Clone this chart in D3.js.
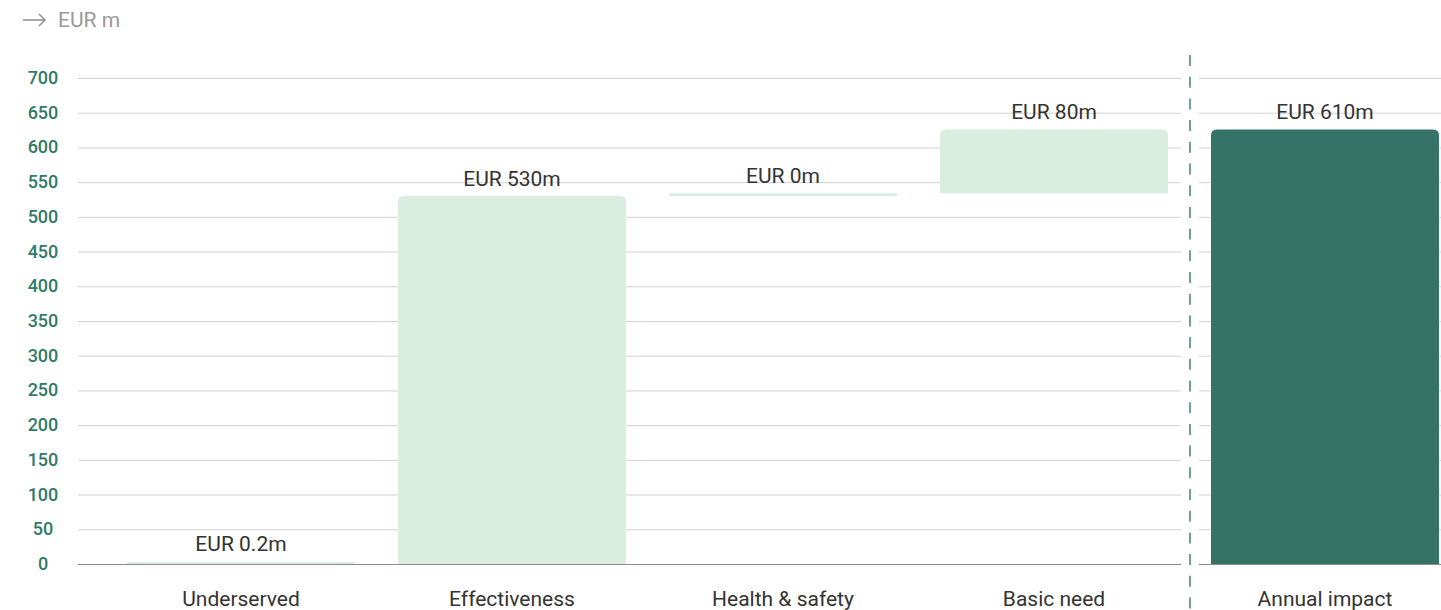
<!DOCTYPE html>
<html>
<head>
<meta charset="utf-8">
<script src="https://cdn.jsdelivr.net/npm/d3@7"></script>
<style>
  body { margin: 0; background: #fff; font-family: Roboto, "Noto Sans", sans-serif; }
  svg { display: block; }
</style>
</head>
<body>
<div id="chart"></div>
<script>
// categories and values (bar start / end, labels as printed)
var categories = ["Underserved", "Effectiveness", "Health & safety", "Basic need", "Annual impact"];
var barStart = [0, 0, 530, 534, 0];
var barEnd = [3, 530, 534, 626, 626];
var valueLabels = ["EUR 0.2m", "EUR 530m", "EUR 0m", "EUR 80m", "EUR 610m"];
var isTotal = [false, false, false, false, true];
var yTicks = [0, 50, 100, 150, 200, 250, 300, 350, 400, 450, 500, 550, 600, 650, 700];

var width = 1441, height = 610;
var divX = 1190;

var svg = d3.select("#chart").append("svg")
    .attr("width", width)
    .attr("height", height);

var y = d3.scaleLinear().domain([0, 700]).range([564, 78]);
var x = d3.scaleBand().domain(categories)
    .range([127, 1439])
    .paddingInner(0.1587)
    .paddingOuter(0);

// unit label with arrow
svg.append("path")
    .attr("d", "M23,20 H45 M39,14 L45,20 L39,26")
    .attr("fill", "none")
    .attr("stroke", "#8a8a8a")
    .attr("stroke-width", 1.4);
svg.append("text")
    .attr("x", 58).attr("y", 27)
    .attr("font-size", 21)
    .attr("fill", "#999")
    .text("EUR m");

// grid lines, split round the divider
var panels = [[78, divX - 9], [divX + 9, width]];
panels.forEach(function(p) {
  svg.append("g").selectAll("line")
    .data(yTicks.slice(1))
    .enter().append("line")
    .attr("x1", p[0]).attr("x2", p[1])
    .attr("y1", function(d) { return y(d) + 0.5; })
    .attr("y2", function(d) { return y(d) + 0.5; })
    .attr("stroke", "#d2d2d2");
});

// y tick labels
svg.append("g").selectAll("text")
  .data(yTicks)
  .enter().append("text")
  .attr("x", 43)
  .attr("y", function(d) { return y(d) + 6; })
  .attr("text-anchor", "middle")
  .attr("font-size", 18)
  .attr("font-weight", 500)
  .attr("fill", "#2f7a6a")
  .text(function(d) { return d; });

// bars with rounded tops
function barPath(i) {
  var x0 = x(categories[i]), w = x.bandwidth();
  var top = y(barEnd[i]), bot = y(barStart[i]);
  var r = Math.min(6, (bot - top) / 2);
  return "M" + x0 + "," + bot +
    " V" + (top + r) +
    " Q" + x0 + "," + top + " " + (x0 + r) + "," + top +
    " H" + (x0 + w - r) +
    " Q" + (x0 + w) + "," + top + " " + (x0 + w) + "," + (top + r) +
    " V" + bot + " Z";
}

svg.append("g").selectAll("path")
  .data(categories)
  .enter().append("path")
  .attr("d", function(d, i) { return barPath(i); })
  .attr("fill", function(d, i) { return isTotal[i] ? "#357367" : "#d9ede1"; });

// baseline
panels.forEach(function(p) {
  svg.append("line")
    .attr("x1", p[0]).attr("x2", p[1])
    .attr("y1", y(0) + 0.5).attr("y2", y(0) + 0.5)
    .attr("stroke", "#8c8c8c");
});

// value labels
svg.append("g").selectAll("text")
  .data(categories)
  .enter().append("text")
  .attr("x", function(d) { return x(d) + x.bandwidth() / 2; })
  .attr("y", function(d, i) { return y(barEnd[i]) - 10.5; })
  .attr("text-anchor", "middle")
  .attr("font-size", 21)
  .attr("fill", "#333")
  .text(function(d, i) { return valueLabels[i]; });

// category labels
svg.append("g").selectAll("text")
  .data(categories)
  .enter().append("text")
  .attr("x", function(d) { return x(d) + x.bandwidth() / 2; })
  .attr("y", 605.5)
  .attr("text-anchor", "middle")
  .attr("font-size", 21)
  .attr("fill", "#333")
  .text(function(d) { return d; });

// dashed divider before the total
svg.append("line")
  .attr("x1", divX).attr("x2", divX)
  .attr("y1", 55).attr("y2", height)
  .attr("stroke", "#3f8275")
  .attr("stroke-width", 1.5)
  .attr("stroke-dasharray", "11,10.7");
</script>
</body>
</html>
